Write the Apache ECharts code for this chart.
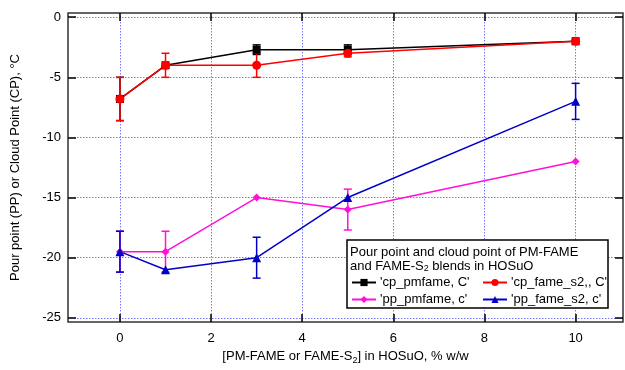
<!DOCTYPE html>
<html>
<head>
<meta charset="utf-8">
<script src="https://cdn.jsdelivr.net/npm/echarts@6/dist/echarts.min.js"></script>
<style>html,body{margin:0;padding:0;background:#fff;}#c{width:625px;height:370px;}</style>
</head>
<body>
<div id="c"></div>
<script>
// ---- data ----
var xValues = [0, 1, 3, 5, 10];
var cpPmfame = [-6.8, -4, -2.7, -2.7, -2];
var cpPmfameErr = [1.8, 0, 0.4, 0.4, 0];
var cpFameS2 = [-6.8, -4, -4, -3, -2];
var cpFameS2Err = [1.8, 1, 1, 0.3, 0];
var ppPmfame = [-19.5, -19.5, -15, -16, -12];
var ppPmfameErr = [1.7, 1.7, 0, 1.7, 0];
var ppFameS2 = [-19.5, -21, -20, -15, -7];
var ppFameS2Err = [1.7, 0, 1.7, 0, 1.5];
var xTicks = [0, 2, 4, 6, 8, 10];
var yTicks = [-25, -20, -15, -10, -5, 0];
var seriesNames = ["'cp_pmfame, C'", "'cp_fame_s2,, C'", "'pp_pmfame, c'", "'pp_fame_s2, c'"];
var seriesColors = ['#000000', '#ff0000', '#ff10d8', '#0000c8'];

var FONT = 'Liberation Sans, Arial, sans-serif';

function pts(ys) { return xValues.map(function (x, i) { return [x, ys[i]]; }); }
function errs(ys, es) {
  var out = [];
  xValues.forEach(function (x, i) { if (es[i] > 0) out.push([x, ys[i] - es[i], ys[i] + es[i]]); });
  return out;
}
function errSeries(ys, es, color) {
  return {
    type: 'custom',
    data: errs(ys, es),
    silent: true,
    renderItem: function (params, api) {
      var x = api.value(0), lo = api.value(1), hi = api.value(2);
      var p1 = api.coord([x, lo]), p2 = api.coord([x, hi]);
      var w = 4;
      var st = { stroke: color, lineWidth: 1.5 };
      return {
        type: 'group',
        children: [
          { type: 'line', shape: { x1: p1[0], y1: p1[1], x2: p2[0], y2: p2[1] }, style: st },
          { type: 'line', shape: { x1: p1[0] - w, y1: p1[1], x2: p1[0] + w, y2: p1[1] }, style: st },
          { type: 'line', shape: { x1: p2[0] - w, y1: p2[1], x2: p2[0] + w, y2: p2[1] }, style: st }
        ]
      };
    }
  };
}
function lineSeries(name, ys, color, symbol, size) {
  return {
    type: 'line', name: name, data: pts(ys), symbol: symbol, symbolSize: size,
    showAllSymbol: true,
    lineStyle: { color: color, width: 1.5 },
    itemStyle: { color: color },
    emphasis: { disabled: true }
  };
}

var grid = { left: 68, top: 13, right: 2, bottom: 44, show: true, borderColor: '#333', borderWidth: 1.5 };
var xMin = -1.14, xMax = 11.04, yMin = -25.35, yMax = 0.35;
function gridLine() { return { show: true, lineStyle: { color: '#7878ff', type: [1.5, 1.5], width: 1 } }; }
function tick(vals) { return { show: true, inside: true, length: 8, customValues: vals, lineStyle: { color: '#000', width: 1.5 } }; }

var option = {
  animation: false,
  textStyle: { fontFamily: FONT },
  grid: grid,
  xAxis: [{
    type: 'value', min: xMin, max: xMax, position: 'bottom',
    axisLine: { show: false, onZero: false },
    axisTick: tick(xTicks),
    axisLabel: { customValues: xTicks, color: '#000', fontSize: 13, fontFamily: FONT, margin: 10 },
    splitLine: gridLine(),
    name: '[PM-FAME or FAME-S{sub|2}] in HOSuO, % w/w',
    nameLocation: 'middle', nameGap: 26,
    nameTextStyle: { color: '#000', fontSize: 13, fontFamily: FONT,
      rich: { sub: { fontSize: 9, verticalAlign: 'bottom', padding: [8, 0, 0, 0], color: '#000', fontFamily: FONT } } }
  }, {
    type: 'value', min: xMin, max: xMax, position: 'top',
    axisLine: { show: false, onZero: false },
    axisTick: tick(xTicks),
    axisLabel: { show: false }, splitLine: { show: false }
  }],
  yAxis: [{
    type: 'value', min: yMin, max: yMax, position: 'left',
    axisLine: { show: false, onZero: false },
    axisTick: tick(yTicks),
    axisLabel: { customValues: yTicks, color: '#000', fontSize: 13, fontFamily: FONT, margin: 7 },
    splitLine: gridLine(),
    name: 'Pour point (PP) or Cloud Point (CP), °C',
    nameLocation: 'middle', nameGap: 46,
    nameTextStyle: { color: '#000', fontSize: 13, fontFamily: FONT }
  }, {
    type: 'value', min: yMin, max: yMax, position: 'right',
    axisLine: { show: false, onZero: false },
    axisTick: tick(yTicks),
    axisLabel: { show: false }, splitLine: { show: false }
  }],
  title: {
    left: 350, top: 245, z: 7,
    text: 'Pour point and cloud point of PM-FAME\nand FAME-S{sub|2} blends in HOSuO',
    textStyle: { color: '#000', fontSize: 13, fontWeight: 'normal', fontFamily: FONT, lineHeight: 14,
      rich: { sub: { fontSize: 9, verticalAlign: 'bottom', padding: [7, 0, 0, 0], color: '#000', fontFamily: FONT, lineHeight: 14 } } },
    padding: 0
  },
  graphic: [{
    type: 'rect', z: 5, silent: true,
    shape: { x: 347, y: 240, width: 261, height: 68 },
    style: { fill: '#fff', stroke: '#000', lineWidth: 1.5 }
  }],
  legend: [{
    left: 351, top: 276, orient: 'vertical', z: 7, padding: 0,
    itemWidth: 24, itemHeight: 9, itemGap: 4,
    textStyle: { color: '#000', fontSize: 13, fontFamily: FONT, padding: [0, 0, 0, -1] },
    data: [seriesNames[0], seriesNames[2]]
  }, {
    left: 482, top: 276, orient: 'vertical', z: 7, padding: 0,
    itemWidth: 24, itemHeight: 9, itemGap: 4,
    textStyle: { color: '#000', fontSize: 13, fontFamily: FONT, padding: [0, 0, 0, -1] },
    data: [seriesNames[1], seriesNames[3]]
  }],
  series: [
    errSeries(cpPmfame, cpPmfameErr, seriesColors[0]),
    lineSeries(seriesNames[0], cpPmfame, seriesColors[0], 'rect', 8),
    errSeries(cpFameS2, cpFameS2Err, seriesColors[1]),
    lineSeries(seriesNames[1], cpFameS2, seriesColors[1], 'circle', 9),
    errSeries(ppPmfame, ppPmfameErr, seriesColors[2]),
    lineSeries(seriesNames[2], ppPmfame, seriesColors[2], 'diamond', 8),
    errSeries(ppFameS2, ppFameS2Err, seriesColors[3]),
    lineSeries(seriesNames[3], ppFameS2, seriesColors[3], 'triangle', 9)
  ]
};
var chart = echarts.init(document.getElementById('c'), null, { renderer: 'canvas' });
chart.setOption(option);
</script>
</body>
</html>
